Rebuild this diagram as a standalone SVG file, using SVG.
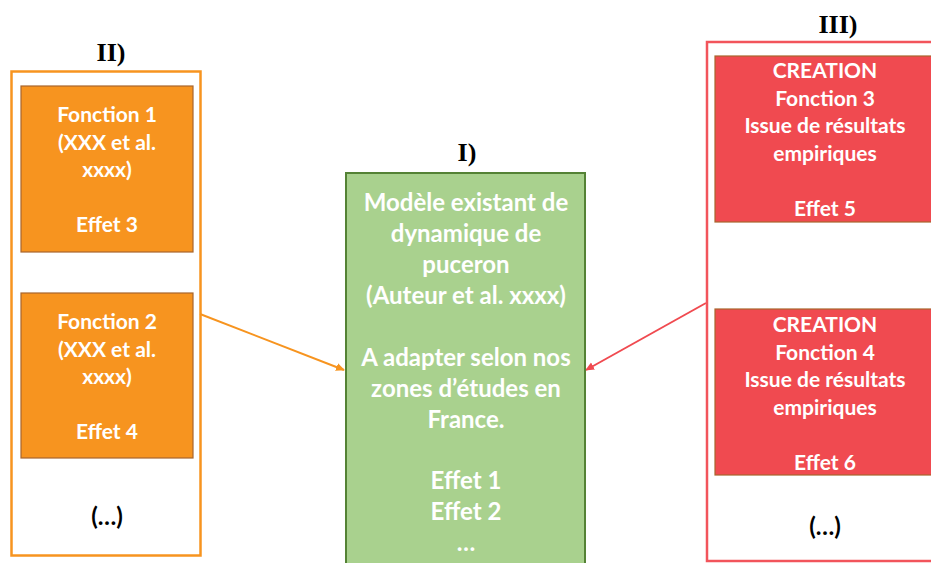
<svg xmlns="http://www.w3.org/2000/svg" width="931" height="563" viewBox="0 0 931 563">
<defs>
<style>
.t{font-family:Lato,"Open Sans","Liberation Sans",sans-serif;font-weight:bold;fill:#fff;text-anchor:middle}
.s{font-size:21px}
.g{font-size:24px}
.k{fill:#000;font-size:24px}
.h{font-family:"Liberation Serif","Times New Roman",serif;font-weight:bold;font-size:26px;fill:#000;text-anchor:middle}
.ob{fill:#F7941F;stroke:#A8652C;stroke-width:1.2}
.rb{fill:#F04A50;stroke:#A8652C;stroke-width:1.2}
</style>
<marker id="ao" markerWidth="10" markerHeight="10" refX="8" refY="5" orient="auto" markerUnits="userSpaceOnUse"><path d="M0,1 L9,5 L0,9 Z" fill="#F7941F"/></marker>
<marker id="ar" markerWidth="10" markerHeight="10" refX="8" refY="5" orient="auto" markerUnits="userSpaceOnUse"><path d="M0,1 L9,5 L0,9 Z" fill="#F04A50"/></marker>
</defs>
<rect width="931" height="563" fill="#fff"/>

<g id="connectors">
<line x1="200" y1="314" x2="344" y2="370" stroke="#F7941F" stroke-width="2" marker-end="url(#ao)"/>
<line x1="706" y1="303" x2="586" y2="370" stroke="#F04A50" stroke-width="2" marker-end="url(#ar)"/>
</g>

<g id="group2">
<text class="h" x="111" y="61">II)</text>
<rect x="11.5" y="71.5" width="189" height="484" fill="none" stroke="#F7941F" stroke-width="2.5"/>
<text class="t k" x="107" y="525">(…)</text>
</g>
<g id="fonction1">
<rect class="ob" x="21" y="86" width="172" height="166"/>
<text class="t s" x="107"><tspan x="107" y="122">Fonction 1</tspan><tspan x="107" y="150">(XXX et al.</tspan><tspan x="107" y="177">xxxx)</tspan><tspan x="107" y="232">Effet 3</tspan></text>
</g>
<g id="fonction2">
<rect class="ob" x="21" y="293" width="172" height="165"/>
<text class="t s" x="107"><tspan x="107" y="329">Fonction 2</tspan><tspan x="107" y="357">(XXX et al.</tspan><tspan x="107" y="384">xxxx)</tspan><tspan x="107" y="439">Effet 4</tspan></text>
</g>

<g id="modele">
<text class="h" x="467" y="161">I)</text>
<rect x="346" y="173" width="239" height="395" fill="#A9D18E" stroke="#548235" stroke-width="2"/>
<text class="t g" x="466"><tspan x="466" y="211">Modèle existant de</tspan><tspan x="466" y="242">dynamique de</tspan><tspan x="466" y="273">puceron</tspan><tspan x="466" y="304">(Auteur et al. xxxx)</tspan><tspan x="466" y="366">A adapter selon nos</tspan><tspan x="466" y="397">zones d’études en</tspan><tspan x="466" y="428">France.</tspan><tspan x="466" y="489">Effet 1</tspan><tspan x="466" y="520">Effet 2</tspan><tspan x="466" y="551">…</tspan></text>
</g>

<g id="group3">
<text class="h" x="838" y="33">III)</text>
<rect x="707" y="42" width="240" height="519" fill="none" stroke="#F2545B" stroke-width="2.5"/>
<text class="t k" x="825" y="535">(…)</text>
</g>
<g id="fonction3">
<rect class="rb" x="715" y="56" width="225" height="166"/>
<text class="t s" x="825"><tspan x="825" y="78">CREATION</tspan><tspan x="825" y="106">Fonction 3</tspan><tspan x="825" y="133">Issue de résultats</tspan><tspan x="825" y="161">empiriques</tspan><tspan x="825" y="216">Effet 5</tspan></text>
</g>
<g id="fonction4">
<rect class="rb" x="715" y="309" width="225" height="166"/>
<text class="t s" x="825"><tspan x="825" y="332">CREATION</tspan><tspan x="825" y="360">Fonction 4</tspan><tspan x="825" y="387">Issue de résultats</tspan><tspan x="825" y="415">empiriques</tspan><tspan x="825" y="470">Effet 6</tspan></text>
</g>
</svg>
